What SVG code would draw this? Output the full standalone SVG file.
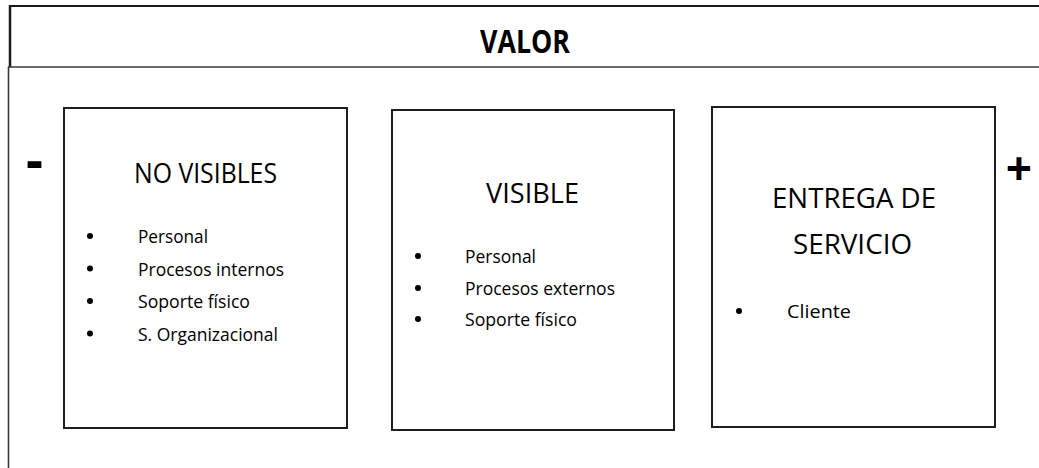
<svg xmlns="http://www.w3.org/2000/svg" width="1039" height="468" viewBox="0 0 1039 468">
<style>
.frame{fill:none;stroke:#1a1a1a;stroke-width:2}
.thin{fill:none;stroke:#3a3a3a;stroke-width:1.6}
.box{fill:#fff;stroke:#1e1e1e;stroke-width:2}
.title{font-family:"Open Sans","Liberation Sans",sans-serif;font-size:28px;fill:#000;text-anchor:middle}
.head{font-family:"Open Sans","Liberation Sans",sans-serif;font-size:32px;font-weight:bold;fill:#000;text-anchor:middle}
.item{font-family:"Open Sans","Liberation Sans",sans-serif;font-size:18px;fill:#000}
.sign{font-family:"Open Sans","Liberation Sans",sans-serif;font-weight:bold;fill:#000;text-anchor:middle}
.dot{fill:#000}
</style>
<rect width="1039" height="468" fill="#fff"/>
<g id="frame">
<path class="frame" d="M10 6 H1040"/>
<path class="frame" d="M10 5 V67" style="stroke-width:2.5"/>
<path class="thin" d="M8 67 H1040"/>
<path class="thin" d="M8.5 67 V468"/>
<text class="head" x="525" y="53" textLength="90" lengthAdjust="spacingAndGlyphs">VALOR</text>
<text class="sign" x="34.5" y="180" font-size="56" textLength="17" lengthAdjust="spacingAndGlyphs">-</text>
<text class="sign" x="1019" y="185" font-size="46">+</text>
</g>
<g id="no-visibles">
<rect class="box" x="64" y="108" width="283" height="320"/>
<text class="title" x="205.5" y="183" textLength="143" lengthAdjust="spacingAndGlyphs">NO VISIBLES</text>
<circle class="dot" cx="90" cy="236" r="3"/>
<circle class="dot" cx="90" cy="268.5" r="3"/>
<circle class="dot" cx="90" cy="301" r="3"/>
<circle class="dot" cx="90" cy="333.5" r="3"/>
<text class="item" x="138" y="243" textLength="70" lengthAdjust="spacingAndGlyphs">Personal</text>
<text class="item" x="138" y="275.5" textLength="146" lengthAdjust="spacingAndGlyphs">Procesos internos</text>
<text class="item" x="138" y="308" textLength="112" lengthAdjust="spacingAndGlyphs">Soporte físico</text>
<text class="item" x="138" y="340.5" textLength="140" lengthAdjust="spacingAndGlyphs">S. Organizacional</text>
</g>
<g id="visible">
<rect class="box" x="392" y="110" width="282" height="320"/>
<text class="title" x="532.5" y="203" textLength="93" lengthAdjust="spacingAndGlyphs">VISIBLE</text>
<circle class="dot" cx="418" cy="256" r="3"/>
<circle class="dot" cx="418" cy="288" r="3"/>
<circle class="dot" cx="418" cy="319" r="3"/>
<text class="item" x="465" y="263" textLength="71" lengthAdjust="spacingAndGlyphs">Personal</text>
<text class="item" x="465" y="295" textLength="150" lengthAdjust="spacingAndGlyphs">Procesos externos</text>
<text class="item" x="465" y="326" textLength="112" lengthAdjust="spacingAndGlyphs">Soporte físico</text>
</g>
<g id="entrega">
<rect class="box" x="712" y="107" width="283" height="320"/>
<text class="title" x="854" y="208" textLength="164" lengthAdjust="spacingAndGlyphs">ENTREGA DE</text>
<text class="title" x="852.5" y="254" textLength="119" lengthAdjust="spacingAndGlyphs">SERVICIO</text>
<circle class="dot" cx="739" cy="311" r="3"/>
<text class="item" x="787" y="318" textLength="64" lengthAdjust="spacingAndGlyphs">Cliente</text>
</g>
<g id="connectors"/>
</svg>
